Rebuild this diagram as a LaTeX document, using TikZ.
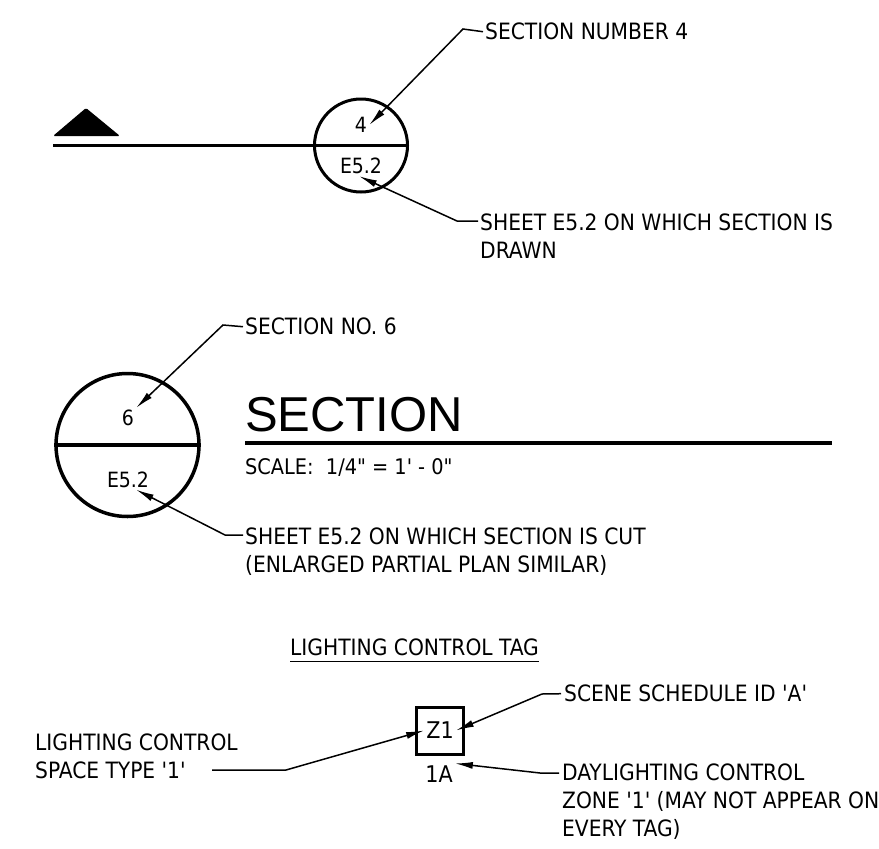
\documentclass[tikz,border=0pt]{standalone}
\usepackage{fontspec}
\usetikzlibrary{arrows.meta}
\setmainfont{DejaVu Sans Condensed}
\newfontfamily\titlefont{Liberation Sans}
\newcommand{\q}{\textquotesingle}
\newcommand{\qq}{\textquotedbl}

\tikzset{
  note/.style={inner sep=0pt, align=left, anchor=north west, font=\fontsize{22.5}{28}\selectfont},
  num/.style={inner sep=2pt, font=\fontsize{21}{25}\selectfont},
  bubble/.style={circle, draw, line width=3pt, inner sep=0pt},
  leader/.style={line width=1.5pt, -{Latex[length=18pt,width=7pt]}}
}

\begin{document}
\begin{tikzpicture}[x=1pt, y=-1pt]
        \useasboundingbox (0,0) rectangle (879,849);

        % section cut marker
        \fill[rounded corners=1.5pt] (53,136) -- (86,108) -- (120,136) -- cycle;
        \node[bubble, minimum size=93] (c4) at (361,145.5) {};
        \coordinate (cut) at (53,145.5);
        \draw[line width=3pt] (cut) -- (c4.east);
        \node[num] (n4) at (361,125) {4};
        \node[num] (e4) at (361,166) {E5.2};

        \node[note] (sn4) at (485,23) {SECTION NUMBER 4};
        \node[note] (sh4) at (480,214) {SHEET E5.2 ON WHICH SECTION IS\\DRAWN};
        \coordinate (k4) at (463,29);
        \coordinate (k5) at (457,221);
        \draw[leader] ([xshift=-2pt]sn4.west) -- (k4) -- (n4.east);
        \draw[leader] ([xshift=-2pt,yshift=-7pt]sh4.north west) -- (k5) -- ([xshift=-2pt]e4.south);

        % section title bubble
        \node[bubble, line width=3.5pt, minimum size=143] (c6) at (127.5,445) {};
        \draw[line width=3.5pt] (c6.west) -- (c6.east);
        \node[num] (n6) at (128,418) {6};
        \node[num] (e6) at (128,479.5) {E5.2};

        \node[note] (sn6) at (245,318) {SECTION NO. 6};
        \node[note] (sh6) at (245,528) {SHEET E5.2 ON WHICH SECTION IS CUT\\(ENLARGED PARTIAL PLAN SIMILAR)};
        \coordinate (k6) at (223,325);
        \coordinate (k7) at (225,535);
        \draw[leader] ([xshift=-2pt]sn6.west) -- (k6) -- (n6.north east);
        \draw[leader] ([xshift=-2pt,yshift=-7pt]sh6.north west) -- (k7) -- ([xshift=8pt]e6.south);

        \node[inner sep=0pt, anchor=south west, font=\titlefont\fontsize{49}{50}\selectfont] (sec) at (245,432) {SECTION};
        \draw[line width=4pt] ([yshift=-11pt]sec.south west) -- ++(587,0);
        \node[note, font=\fontsize{21.5}{24}\selectfont] (scl) at (245,458) {SCALE:\ \ 1/4\qq{} = 1\q{} - 0\qq};

        % lighting control tag
        \node[note] (tt) at (290,639) {LIGHTING CONTROL TAG};
        \draw[line width=1.5pt] ([yshift=-5pt]tt.south west) -- ([yshift=-5pt]tt.south east);

        \node[draw, line width=3pt, minimum size=47, inner sep=0pt] (tag) at (440,730.5) {};
        \node[num, font=\fontsize{23}{26}\selectfont] (z1) at (tag) {Z1};
        \node[num, font=\fontsize{23}{26}\selectfont] (a1) at (439,774) {1A};

        \node[note] (lc) at (35,733.5) {LIGHTING CONTROL\\SPACE TYPE \q1\q};
        \node[note] (ss) at (564,685) {SCENE SCHEDULE ID \q A\q};
        \node[note] (dl) at (562,764) {DAYLIGHTING CONTROL\\ZONE \q1\q{} (MAY NOT APPEAR ON\\EVERY TAG)};

        \coordinate (ka) at (212,770);
        \coordinate (kb) at (286,770);
        \coordinate (kc) at (542,694);
        \coordinate (kd) at (540,773);
        \draw[leader] (ka) -- (kb) -- (z1.west);
        \draw[leader] ([xshift=-3pt]ss.west) -- (kc) -- (z1.east);
        \draw[leader] ([xshift=-3pt,yshift=-9pt]dl.north west) -- (kd) -- (a1.north east);
      \end{tikzpicture}
\end{document}
